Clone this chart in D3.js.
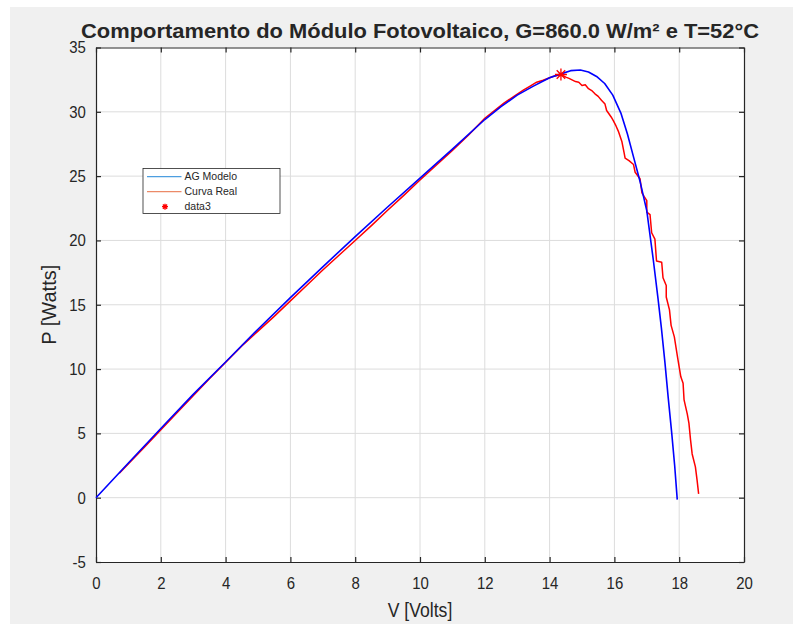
<!DOCTYPE html>
<html>
<head>
<meta charset="utf-8">
<script src="https://cdn.jsdelivr.net/npm/d3@7/dist/d3.min.js"></script>
<style>
body { margin: 0; background: #fff; }
svg text { font-family: "Liberation Sans", Arial, Helvetica, sans-serif; fill: #262626; }
</style>
</head>
<body>
<script>
"use strict";

//Width and height
let w = 793;
let h = 624;
let plotLeft = 96, plotTop = 47.5, pw = 648, ph = 514.5;
let squish = 0.88; // the reference text looks a bit narrow

let title = "Comportamento do Módulo Fotovoltaico, G=860.0 W/m² e T=52°C";
let xLabel = "V [Volts]";
let yLabel = "P [Watts]";
let xTicks = [0, 2, 4, 6, 8, 10, 12, 14, 16, 18, 20];
let yTicks = [-5, 0, 5, 10, 15, 20, 25, 30, 35];
let seriesNames = ["AG Modelo", "Curva Real", "data3"];

// AG model curve
let modelV = [0, 1, 2, 3, 4, 5, 6, 7, 8, 9, 10, 11, 12, 12.5, 13, 13.5, 14, 14.35,
    14.65, 14.95, 15.2, 15.45, 15.7, 15.95, 16.2, 16.4, 16.6, 16.8, 17.0, 17.2,
    17.35, 17.45, 17.56, 17.66, 17.77, 17.86, 17.94];
let modelP = [0, 2.7, 5.38, 8.03, 10.55, 13.1, 15.55, 17.95, 20.3, 22.6, 24.85, 27.1, 29.4, 30.4, 31.3, 32.0, 32.65, 32.95,
    33.2, 33.25, 33.1, 32.75, 32.2, 31.3, 29.9, 28.3, 26.4, 24.5, 22.3, 18.5,
    15.4, 13.2, 10.5, 7.8, 5.0, 2.5, -0.15];

// measured curve
let realV = [0.72, 1.5, 2.5, 3.5, 4.5, 5.0, 5.5, 6.0, 6.5, 7.0, 7.5, 8.0, 8.5, 9.0, 9.5, 10.0, 10.5, 11.0, 11.5,
    12.0, 12.3, 12.6, 12.9, 13.2, 13.4, 13.6, 13.8, 14.1, 14.35, 14.5, 14.6, 14.8, 14.9, 15.0, 15.1, 15.2,
    15.3, 15.4, 15.5, 15.6, 15.71, 15.76, 15.9, 15.97, 16.05, 16.12, 16.23, 16.3, 16.33, 16.45, 16.59, 16.64,
    16.79, 16.85, 16.92, 17.0, 17.0, 17.1, 17.15, 17.25, 17.3, 17.46, 17.5, 17.6, 17.6, 17.7, 17.75, 17.85,
    17.95, 18.05, 18.12, 18.15, 18.25, 18.3, 18.35, 18.4, 18.5, 18.55, 18.6];
let realP = [1.9, 3.95, 6.6, 9.25, 11.8, 12.95, 14.1, 15.3, 16.5, 17.7, 18.85, 20.0, 21.15, 22.35, 23.5, 24.7, 25.85, 27.0, 28.2,
    29.5, 30.1, 30.7, 31.2, 31.7, 32.0, 32.3, 32.45, 32.75, 32.9, 32.7, 32.6, 32.35, 32.3, 32.05, 32.1, 31.8,
    31.65, 31.4, 31.2, 30.9, 30.6, 30.1, 29.6, 29.3, 28.9, 28.5, 27.7, 26.8, 26.4, 26.2, 25.9, 25.3,
    24.8, 23.7, 23.4, 23.1, 22.2, 22.0, 20.6, 20.1, 18.4, 18.3, 17.1, 16.5, 15.6, 14.6, 13.4, 12.5,
    10.9, 9.4, 8.9, 7.6, 6.5, 5.8, 4.5, 3.4, 2.4, 1.4, 0.3];

// maximum power point
let mppV = [14.35];
let mppP = [32.9];

let svg = d3.select("body")
    .append("svg")
    .attr("width", w)
    .attr("height", h);

svg.append("rect")
    .attr("x", 10).attr("y", 7)
    .attr("width", w - 10).attr("height", h - 7)
    .attr("fill", "#f0f0f0");

let x = d3.scaleLinear().domain([0, 20]).range([plotLeft, plotLeft + pw]);
let y = d3.scaleLinear().domain([-5, 35]).range([plotTop + ph, plotTop]);

svg.append("rect")
    .attr("x", plotLeft).attr("y", plotTop)
    .attr("width", pw).attr("height", ph)
    .attr("fill", "#fff");

// grid
let grid = svg.append("g").attr("stroke", "#dcdcdc").attr("stroke-width", 1);
grid.selectAll(".gx").data(xTicks.slice(1, -1)).enter().append("line")
    .attr("x1", d => x(d)).attr("x2", d => x(d))
    .attr("y1", plotTop).attr("y2", plotTop + ph);
grid.selectAll(".gy").data(yTicks.slice(1, -1)).enter().append("line")
    .attr("y1", d => y(d)).attr("y2", d => y(d))
    .attr("x1", plotLeft).attr("x2", plotLeft + pw);

// axes, ticks pointing inside on all four sides
let styleAxis = function(g) {
    g.select(".domain").attr("stroke", "#262626").attr("stroke-width", 1.2);
    g.selectAll(".tick line").attr("stroke", "#262626").attr("stroke-width", 1.2);
    g.selectAll("text").attr("font-size", 17).attr("fill", "#262626")
        .attr("transform", `scale(${squish},1)`);
};

let plainNum = d => String(d); // matlab uses a hyphen for negatives

svg.append("g")
    .attr("transform", `translate(0,${plotTop + ph})`)
    .call(d3.axisBottom(x).tickValues(xTicks).tickFormat(plainNum)
        .tickSizeInner(-5).tickSizeOuter(0).tickPadding(15))
    .call(styleAxis);
svg.append("g")
    .attr("transform", `translate(0,${plotTop})`)
    .call(d3.axisTop(x).tickValues(xTicks).tickFormat("")
        .tickSizeInner(-5).tickSizeOuter(0))
    .call(styleAxis);
svg.append("g")
    .attr("transform", `translate(${plotLeft},0)`)
    .call(d3.axisLeft(y).tickValues(yTicks).tickFormat(plainNum)
        .tickSizeInner(-5).tickSizeOuter(0).tickPadding(11.5))
    .call(styleAxis);
svg.append("g")
    .attr("transform", `translate(${plotLeft + pw},0)`)
    .call(d3.axisRight(y).tickValues(yTicks).tickFormat("")
        .tickSizeInner(-5).tickSizeOuter(0))
    .call(styleAxis);

// curves
let line = d3.line().x(d => x(d[0])).y(d => y(d[1]));

svg.append("path")
    .datum(d3.zip(realV, realP))
    .attr("fill", "none")
    .attr("stroke", "#ff0000")
    .attr("stroke-width", 1.5)
    .attr("stroke-linejoin", "round")
    .attr("d", line);

svg.append("path")
    .datum(d3.zip(modelV, modelP))
    .attr("fill", "none")
    .attr("stroke", "#0000ff")
    .attr("stroke-width", 1.6)
    .attr("stroke-linejoin", "round")
    .attr("d", line);

// matlab style '*' marker
let star = function(r) {
    let k = r * 0.707;
    return `M${-r},0H${r}M0,${-r}V${r}M${-k},${-k}L${k},${k}M${-k},${k}L${k},${-k}`;
};

svg.selectAll(".mpp")
    .data(d3.zip(mppV, mppP))
    .enter().append("path")
    .attr("transform", d => `translate(${x(d[0])},${y(d[1])})`)
    .attr("d", star(6))
    .attr("fill", "none")
    .attr("stroke", "#ff0000")
    .attr("stroke-width", 1.3);

// legend
let legend = svg.append("g").attr("transform", "translate(143,168.5)");
legend.append("rect")
    .attr("width", 137).attr("height", 45)
    .attr("fill", "#fff")
    .attr("stroke", "#262626")
    .attr("stroke-width", 0.8);

let legendColors = ["#4d9ee0", "#ec8a68", "#ff0000"];
let rows = legend.selectAll(".row")
    .data(seriesNames)
    .enter().append("g")
    .attr("transform", (d, i) => `translate(0,${8.2 + i * 15})`);

rows.filter((d, i) => i < 2).append("line")
    .attr("x1", 4).attr("x2", 38.5)
    .attr("stroke", (d, i) => legendColors[i])
    .attr("stroke-width", 1.2);

rows.filter((d, i) => i === 2).append("path")
    .attr("transform", "translate(22,0)")
    .attr("d", star(3))
    .attr("stroke", legendColors[2])
    .attr("stroke-width", 1.3);

rows.append("text")
    .attr("x", 41.5)
    .attr("dy", "0.35em")
    .attr("font-size", 10.5)
    .text(d => d);

// title and labels
svg.append("text")
    .attr("x", plotLeft + pw / 2)
    .attr("y", 37.5)
    .attr("text-anchor", "middle")
    .attr("font-size", 20)
    .attr("font-weight", "bold")
    .attr("fill", "#000")
    .attr("textLength", 678)
    .attr("lengthAdjust", "spacingAndGlyphs")
    .text(title);

svg.append("text")
    .attr("transform", `translate(${plotLeft + pw / 2},617) scale(${squish},1)`)
    .attr("text-anchor", "middle")
    .attr("font-size", 20)
    .text(xLabel);

svg.append("text")
    .attr("transform", `translate(56,${plotTop + ph / 2}) rotate(-90)`)
    .attr("text-anchor", "middle")
    .attr("font-size", 20)
    .text(yLabel);
</script>
</body>
</html>
